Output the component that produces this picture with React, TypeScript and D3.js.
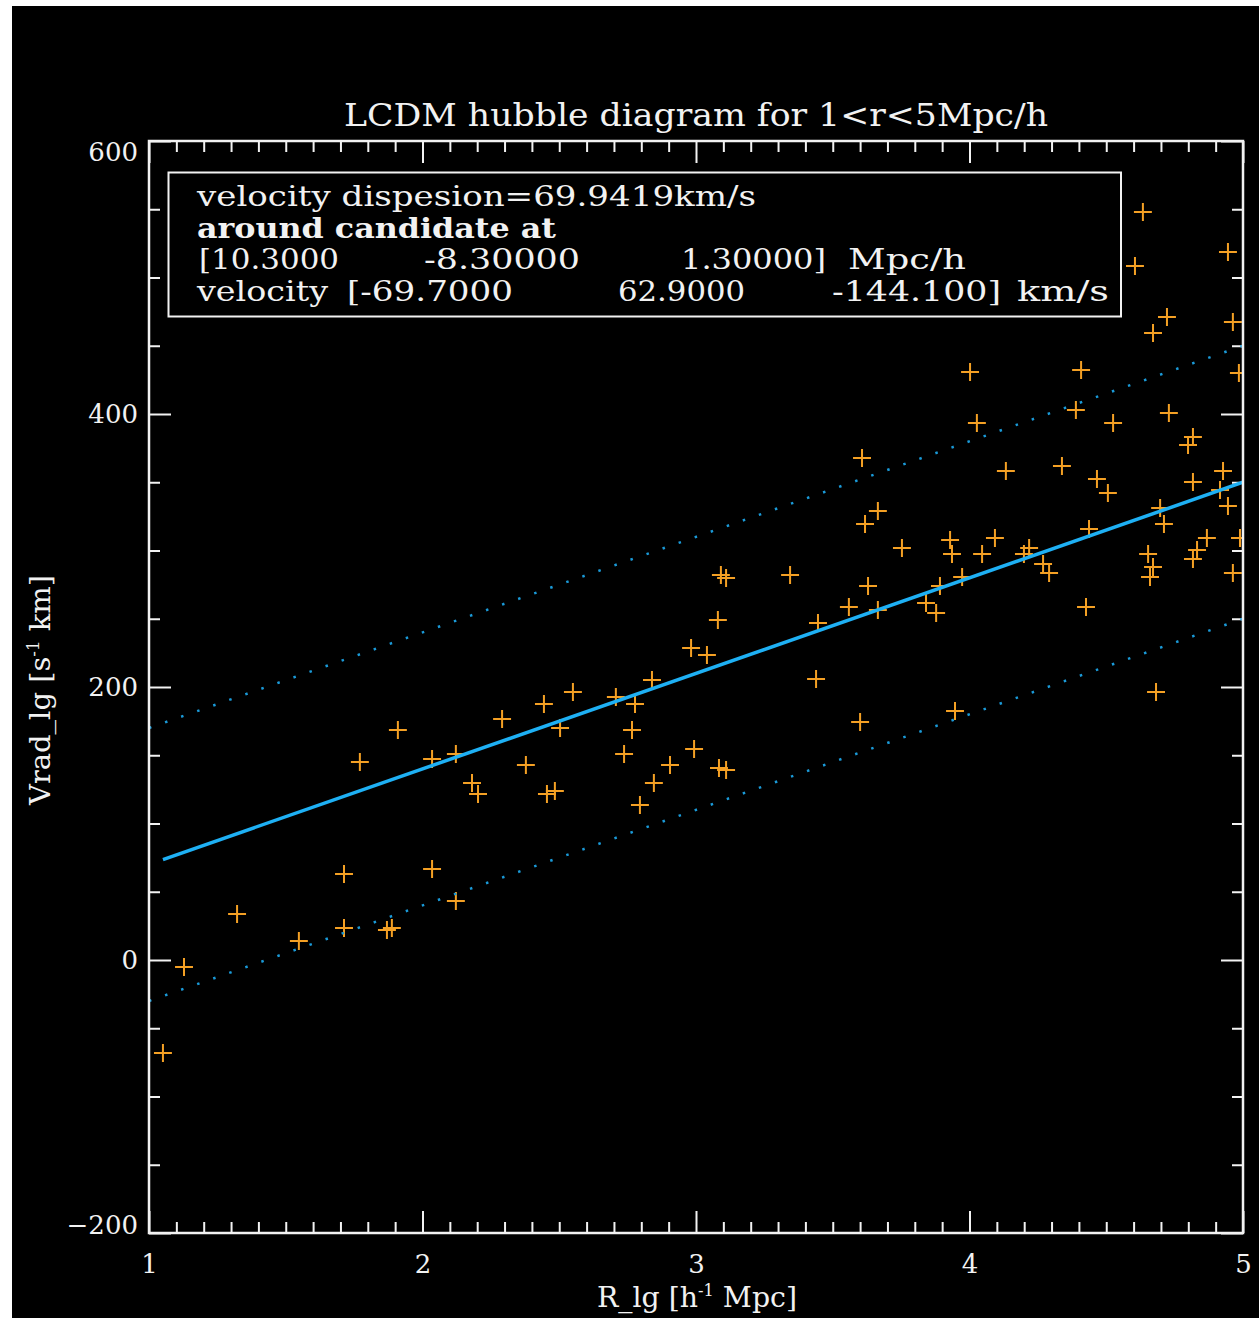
import { useRef, useEffect } from 'react';
import * as d3 from 'd3';

// galaxies around the candidate: distance (h^-1 Mpc) and radial velocity (km/s)
const radii = [
  1.051, 1.128, 1.322, 1.548, 1.713, 1.713, 1.771, 1.870, 1.888, 1.910,
  2.035, 2.035, 2.122, 2.122, 2.181, 2.203, 2.291, 2.378, 2.444, 2.455,
  2.484, 2.503, 2.550, 2.707, 2.777, 2.766, 2.737, 2.795, 2.839, 2.846,
  2.905, 2.982, 2.993, 3.040, 3.080, 3.084, 3.110, 3.091, 3.110, 3.344,
  3.439, 3.446, 3.559, 3.600, 3.607, 3.618, 3.665, 3.629, 3.665, 3.753,
  3.841, 3.878, 3.892, 3.929, 3.936, 3.947, 3.973, 4.002, 4.027, 4.046,
  4.093, 4.133, 4.199, 4.218, 4.269, 4.291, 4.338, 4.389, 4.408, 4.426,
  4.437, 4.466, 4.506, 4.525, 4.605, 4.634, 4.653, 4.671, 4.660, 4.682,
  4.671, 4.722, 4.697, 4.711, 4.729, 4.799, 4.817, 4.817, 4.832, 4.817,
  4.868, 4.916, 4.927, 4.945, 4.945, 4.963, 4.963, 4.985, 4.989,
];
const velocities = [
  -68.1, -5.1, 33.7, 13.9, 63.0, 23.4, 145.1, 22.0, 23.4, 168.5,
  66.7, 147.3, 43.2, 150.9, 129.7, 121.6, 176.6, 142.9, 187.5, 121.6,
  123.8, 170.0, 196.3, 192.7, 187.5, 168.5, 150.9, 113.6, 205.1, 129.7,
  142.9, 228.6, 154.6, 223.4, 249.1, 140.7, 139.2, 282.1, 279.9, 282.1,
  205.9, 246.9, 258.6, 174.4, 367.8, 319.4, 328.9, 274.0, 256.4, 301.8,
  261.5, 254.2, 274.0, 307.7, 297.4, 182.4, 280.6, 430.8, 393.4, 297.4,
  309.2, 358.2, 297.4, 301.8, 290.1, 283.5, 361.9, 402.9, 432.2, 258.6,
  315.8, 352.4, 342.1, 393.4, 508.4, 548.0, 297.4, 287.9, 280.6, 196.3,
  459.3, 471.1, 331.1, 319.4, 400.7, 377.3, 383.2, 350.2, 300.4, 293.8,
  309.2, 344.3, 358.2, 332.6, 518.7, 467.4, 283.5, 430.0, 309.2,
];

const hubbleSlope = 70; // km/s per h^-1 Mpc
const bandOffsets = [-100, 100];

const xDomain = [1, 5];
const yDomain = [-200, 600];
const xMajorTicks = [1, 2, 3, 4, 5];
const yMajorTicks = [-200, 0, 200, 400, 600];

const titleText = 'LCDM hubble diagram for 1<r<5Mpc/h';
const xTitle = ['R_lg [h', '-1', ' Mpc]'];
const yTitle = ['Vrad_lg [s', '-1', ' km]'];

const infoLines = [
  ['velocity dispesion=69.9419km/s'],
  ['around candidate at'],
  ['[10.3000', '-8.30000', '1.30000]', 'Mpc/h'],
  ['velocity', '[-69.7000', '62.9000', '-144.100]', 'km/s'],
];
// left/right pixel edges of each chunk in the info box
const infoSpans = [
  [[197, 756]],
  [[197, 556]],
  [[199, 339], [424, 580], [681, 826], [848, 966]],
  [[197, 328], [347, 513], [618, 745], [832, 1001], [1017, 1109]],
];

const W = 1259;
const H = 1318;
const FONT = '"DejaVu Serif", "Liberation Serif", serif';
const INK = '#f2f2f2';

const App = () => {
  const svgRef = useRef(null);

  useEffect(() => {
    const svg = d3.select(svgRef.current);
    svg.selectAll('*').remove();

    const left = 149, right = 1243, top = 141, bottom = 1233;
    const x = d3.scaleLinear().domain(xDomain).range([left, right]);
    const y = d3.scaleLinear().domain(yDomain).range([bottom, top]);

    svg.append('rect').attr('width', W).attr('height', H).attr('fill', '#fff');
    svg.append('rect').attr('x', 12).attr('y', 6).attr('width', W - 12).attr('height', H - 6).attr('fill', '#000');

    svg.append('clipPath').attr('id', 'plotclip')
      .append('rect')
      .attr('x', left).attr('y', top)
      .attr('width', right - left).attr('height', bottom - top);

    // axes: majors with long ticks, minors with short ones, all pointing inward
    const xMinor = d3.range(11, 50).filter(d => d % 10 !== 0).map(d => d / 10);
    const yMinor = d3.range(-150, 600, 50).filter(d => d % 200 !== 0);

    const styleAxis = g => {
      g.select('.domain').remove();
      g.selectAll('line').attr('stroke', INK).attr('stroke-width', 2);
      g.selectAll('text')
        .attr('fill', INK)
        .style('font-family', FONT)
        .style('font-size', '26px');
    };

    svg.append('g').attr('transform', `translate(0,${bottom})`)
      .call(d3.axisBottom(x).tickValues(xMinor).tickSize(-11).tickSizeOuter(0).tickFormat(() => ''))
      .call(styleAxis);
    svg.append('g').attr('transform', `translate(0,${bottom})`)
      .call(d3.axisBottom(x).tickValues(xMajorTicks).tickSize(-22).tickSizeOuter(0).tickPadding(22).tickFormat(d3.format('d')))
      .call(styleAxis);
    svg.append('g').attr('transform', `translate(0,${top})`)
      .call(d3.axisTop(x).tickValues(xMinor).tickSize(-11).tickSizeOuter(0).tickFormat(() => ''))
      .call(styleAxis);
    svg.append('g').attr('transform', `translate(0,${top})`)
      .call(d3.axisTop(x).tickValues(xMajorTicks).tickSize(-22).tickSizeOuter(0).tickFormat(() => ''))
      .call(styleAxis);

    svg.append('g').attr('transform', `translate(${left},0)`)
      .call(d3.axisLeft(y).tickValues(yMinor).tickSize(-11).tickSizeOuter(0).tickFormat(() => ''))
      .call(styleAxis);
    const yAxis = svg.append('g').attr('transform', `translate(${left},0)`)
      .call(d3.axisLeft(y).tickValues(yMajorTicks).tickSize(-22).tickSizeOuter(0).tickPadding(11).tickFormat(d3.format('d')))
      .call(styleAxis);
    // the end labels sit inside the axis range
    yAxis.selectAll('.tick text')
      .attr('y', d => (d === yDomain[1] ? 11 : d === yDomain[0] ? -8 : 0))
      .text(d => String(d).replace('-', '\u2212'));
    svg.append('g').attr('transform', `translate(${right},0)`)
      .call(d3.axisRight(y).tickValues(yMinor).tickSize(-11).tickSizeOuter(0).tickFormat(() => ''))
      .call(styleAxis);
    svg.append('g').attr('transform', `translate(${right},0)`)
      .call(d3.axisRight(y).tickValues(yMajorTicks).tickSize(-22).tickSizeOuter(0).tickFormat(() => ''))
      .call(styleAxis);

    // points: plus markers with ~9px arms
    const plus = d3.symbolPlus
      ? d3.symbol(d3.symbolPlus, 107)
      : () => 'M-9,0H9M0,-9V9';
    svg.append('g').attr('clip-path', 'url(#plotclip)')
      .selectAll('path')
      .data(radii.map((r, i) => [r, velocities[i]]))
      .join('path')
      .attr('transform', d => `translate(${x(d[0])},${y(d[1])})`)
      .attr('d', plus)
      .attr('fill', 'none')
      .attr('stroke', '#f4a024')
      .attr('stroke-width', 2);

    // hubble flow and +-100 km/s band
    const line = d3.line().x(d => x(d[0])).y(d => y(d[1]));
    const lines = svg.append('g').attr('clip-path', 'url(#plotclip)');
    bandOffsets.forEach(off => {
      lines.append('path')
        .attr('d', line(xDomain.map(r => [r, hubbleSlope * r + off])))
        .attr('fill', 'none')
        .attr('stroke', '#1a9ad8')
        .attr('stroke-width', 2.5)
        .attr('stroke-dasharray', '2.5 14.5');
    });
    const rStart = d3.min(radii);
    lines.append('path')
      .attr('d', line([rStart, xDomain[1]].map(r => [r, hubbleSlope * r])))
      .attr('fill', 'none')
      .attr('stroke', '#1eb0f4')
      .attr('stroke-width', 3.5);

    // frame
    svg.append('rect')
      .attr('x', left).attr('y', top)
      .attr('width', right - left).attr('height', bottom - top)
      .attr('fill', 'none').attr('stroke', INK).attr('stroke-width', 2.5);

    // title
    svg.append('text')
      .attr('x', 696).attr('y', 126)
      .attr('text-anchor', 'middle')
      .attr('textLength', 704).attr('lengthAdjust', 'spacingAndGlyphs')
      .attr('fill', INK).style('font-family', FONT).style('font-size', '32px')
      .text(titleText);

    // info box
    svg.append('rect')
      .attr('x', 168.5).attr('y', 172.5).attr('width', 952.5).attr('height', 144)
      .attr('fill', 'none').attr('stroke', INK).attr('stroke-width', 2);
    infoLines.forEach((chunks, li) => {
      chunks.forEach((s, ci) => {
        const [x0, x1] = infoSpans[li][ci];
        svg.append('text')
          .attr('x', x0).attr('y', 206 + li * 31.7)
          .attr('textLength', x1 - x0).attr('lengthAdjust', 'spacingAndGlyphs')
          .attr('fill', INK).style('font-family', FONT).style('font-size', '28px')
          .style('font-weight', li === 1 ? 'bold' : 'normal')
          .text(s);
      });
    });

    // axis titles
    const addTitle = (parts, tx, ty, len, rotate) => {
      const t = svg.append('text')
        .attr('transform', `translate(${tx},${ty})${rotate ? ' rotate(-90)' : ''}`)
        .attr('text-anchor', 'middle')
        .attr('textLength', len).attr('lengthAdjust', 'spacingAndGlyphs')
        .attr('fill', INK).style('font-family', FONT).style('font-size', '28px');
      t.append('tspan').text(parts[0]);
      t.append('tspan').attr('dy', -11).style('font-size', '16px').text(parts[1]);
      t.append('tspan').attr('dy', 11).text(parts[2]);
    };
    addTitle(xTitle, 697, 1307, 200, false);
    addTitle(yTitle, 50, 690, 230, true);
  }, []);

  return (
    <svg
      ref={svgRef}
      width={W}
      height={H}
      style={{ position: 'absolute', left: 0, top: 0, display: 'block' }}
    />
  );
};

export default App;
